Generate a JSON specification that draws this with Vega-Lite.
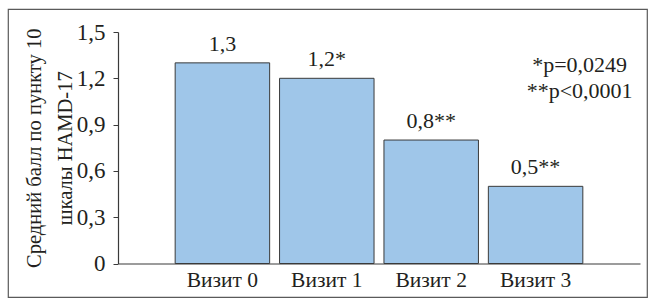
{
  "$schema": "https://vega.github.io/schema/vega-lite/v6.json",
  "width": 639,
  "height": 288,
  "autosize": {"type": "none"},
  "padding": {"left": 8, "top": 9, "right": 8, "bottom": 8},
  "background": "white",
  "config": {
    "view": {"stroke": "#5a5a5a", "strokeWidth": 1.2},
    "font": "Liberation Serif",
    "axis": {
      "labelFont": "Liberation Serif",
      "titleFont": "Liberation Serif",
      "labelColor": "#231f20",
      "titleColor": "#231f20",
      "domainColor": "#3a3a3a",
      "tickColor": "#3a3a3a",
      "grid": false
    }
  },
  "data": {
    "values": [
      {"visit": "Визит 0", "score": 1.3, "label": "1,3", "note": ""},
      {"visit": "Визит 1", "score": 1.2, "label": "1,2*", "note": ""},
      {"visit": "Визит 2", "score": 0.8, "label": "0,8**", "note": ""},
      {"visit": "Визит 3", "score": 0.5, "label": "0,5**", "note": "*p=0,0249\n**p<0,0001"}
    ]
  },
  "encoding": {
    "x": {
      "field": "visit",
      "type": "nominal",
      "sort": null,
      "scale": {"range": [110, 632], "paddingInner": 0.095, "paddingOuter": 0.5475},
      "axis": {
        "title": null,
        "labelAngle": 0,
        "labelFontSize": 21.5,
        "labelPadding": 6,
        "ticks": false,
        "offset": -33.5,
        "domainWidth": 1.2
      }
    },
    "y": {
      "field": "score",
      "type": "quantitative",
      "scale": {"domain": [0, 1.5], "range": [254.5, 23], "nice": false},
      "axis": {
        "values": [0, 0.3, 0.6, 0.9, 1.2, 1.5],
        "labelExpr": "datum.value == 0 ? '0' : replace(format(datum.value, '.1f'), '.', ',')",
        "labelFontSize": 23,
        "labelPadding": 8,
        "tickSize": 5,
        "offset": -110,
        "domainWidth": 1.2,
        "title": ["Средний балл по пункту 10", "шкалы HAMD-17"],
        "titleFontSize": 20.5,
        "titleFontWeight": "normal",
        "titleLineHeight": 31,
        "titlePadding": 1
      }
    }
  },
  "layer": [
    {
      "mark": {"type": "bar", "fill": "#9fc6e9", "stroke": "#3a3a3a", "strokeWidth": 1}
    },
    {
      "mark": {"type": "text", "baseline": "alphabetic", "dy": -12, "fontSize": 22, "color": "#231f20", "font": "Liberation Serif"},
      "encoding": {"text": {"field": "label"}}
    },
    {
      "transform": [{"filter": "datum.note != ''"}],
      "mark": {"type": "text", "lineBreak": "\n", "lineHeight": 26, "align": "center", "baseline": "alphabetic", "dx": 44, "fontSize": 22, "color": "#231f20", "font": "Liberation Serif"},
      "encoding": {
        "y": {"datum": 1.24},
        "text": {"field": "note"}
      }
    }
  ]
}
